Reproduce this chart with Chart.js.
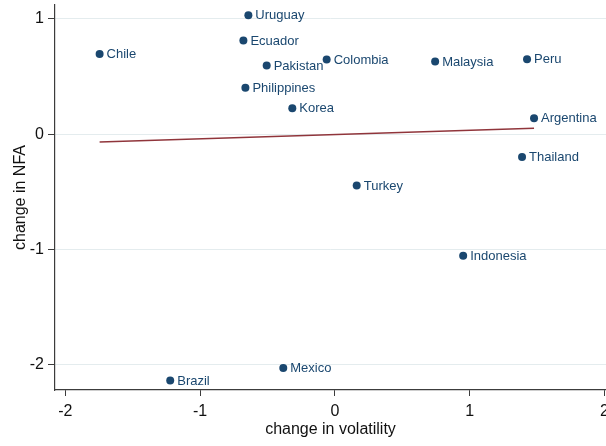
<!DOCTYPE html>
<html>
<head>
<meta charset="utf-8">
<script src="https://cdn.jsdelivr.net/npm/chart.js@4/dist/chart.umd.min.js"></script>
<style>
  html, body { margin: 0; padding: 0; background: #fff; }
  #wrap { width: 606px; height: 446px; }
</style>
</head>
<body>
<div id="wrap"><canvas id="chart" width="606" height="446"></canvas></div>
<script>
// datos
const countries = ['Chile', 'Uruguay', 'Ecuador', 'Pakistan', 'Philippines', 'Korea', 'Colombia',
  'Malaysia', 'Peru', 'Argentina', 'Thailand', 'Turkey', 'Indonesia', 'Mexico', 'Brazil'];
const volChange = [-1.746, -0.642, -0.679, -0.506, -0.664, -0.316, -0.061,
  0.744, 1.426, 1.478, 1.389, 0.162, 0.952, -0.383, -1.222];
const nfaChange = [0.696, 1.032, 0.812, 0.595, 0.402, 0.225, 0.647,
  0.630, 0.650, 0.139, -0.199, -0.446, -1.056, -2.029, -2.137];

// recta ajustada (extremos)
const fitX = [-1.746, 1.478];
const fitY = [-0.067, 0.052];

const xTicks = [-2, -1, 0, 1, 2];
const yTicks = [-2, -1, 0, 1];

const navy = '#1a476f';
const maroon = '#90353b';
const axisColor = '#3c3c3c';
const gridColor = '#e4ecee';
const fontFamily = '"Liberation Sans", Arial, sans-serif';

const pointLabels = {
  id: 'pointLabels',
  afterDatasetsDraw(chart) {
    const ctx = chart.ctx;
    const meta = chart.getDatasetMeta(0);
    ctx.save();
    ctx.font = '13px ' + fontFamily;
    ctx.fillStyle = navy;
    ctx.textAlign = 'left';
    ctx.textBaseline = 'middle';
    meta.data.forEach((pt, i) => {
      ctx.fillText(countries[i], pt.x + 7, pt.y + 0.5);
    });
    ctx.restore();
  }
};

new Chart(document.getElementById('chart'), {
  type: 'scatter',
  data: {
    datasets: [
      {
        data: volChange.map((v, i) => ({ x: v, y: nfaChange[i] })),
        backgroundColor: navy,
        borderWidth: 0,
        pointRadius: 4,
        order: 1
      },
      {
        type: 'line',
        data: fitX.map((v, i) => ({ x: v, y: fitY[i] })),
        borderColor: maroon,
        borderWidth: 1.5,
        pointRadius: 0,
        fill: false,
        order: 2
      }
    ]
  },
  options: {
    responsive: false,
    animation: false,
    layout: { autoPadding: false, padding: { top: 5, right: 0, bottom: 0, left: 0 } },
    plugins: { legend: { display: false }, tooltip: { enabled: false } },
    scales: {
      x: {
        type: 'linear',
        min: -2.077,
        max: 2.012,
        afterBuildTicks: scale => { scale.ticks = xTicks.map(v => ({ value: v })); },
        afterFit: scale => {
          scale.height = 56;
          scale.paddingLeft = 0;
          scale.paddingRight = 0;
        },
        ticks: {
          color: '#111',
          font: { family: fontFamily, size: 16 },
          padding: 6,
          maxRotation: 0,
          autoSkip: false
        },
        grid: {
          drawOnChartArea: false,
          drawTicks: true,
          tickLength: 6,
          tickColor: axisColor,
          tickWidth: 1
        },
        border: { display: true, color: axisColor, width: 1.2 },
        title: {
          display: true,
          text: 'change in volatility',
          color: '#111',
          font: { family: fontFamily, size: 16 },
          padding: { top: 0, bottom: 7 }
        }
      },
      y: {
        type: 'linear',
        min: -2.22,
        max: 1.121,
        afterBuildTicks: scale => { scale.ticks = yTicks.map(v => ({ value: v })); },
        afterFit: scale => {
          scale.width = 55;
          scale.paddingTop = 0;
          scale.paddingBottom = 0;
        },
        ticks: {
          color: '#111',
          font: { family: fontFamily, size: 16 },
          padding: 4,
          autoSkip: false
        },
        grid: {
          color: gridColor,
          lineWidth: 1,
          drawTicks: true,
          tickLength: 7,
          tickColor: axisColor,
          tickWidth: 1
        },
        border: { display: true, color: axisColor, width: 1.2 },
        title: {
          display: true,
          text: 'change in NFA',
          color: '#111',
          font: { family: fontFamily, size: 16 },
          padding: { top: 11, bottom: 0 }
        }
      }
    }
  },
  plugins: [pointLabels]
});
</script>
</body>
</html>
